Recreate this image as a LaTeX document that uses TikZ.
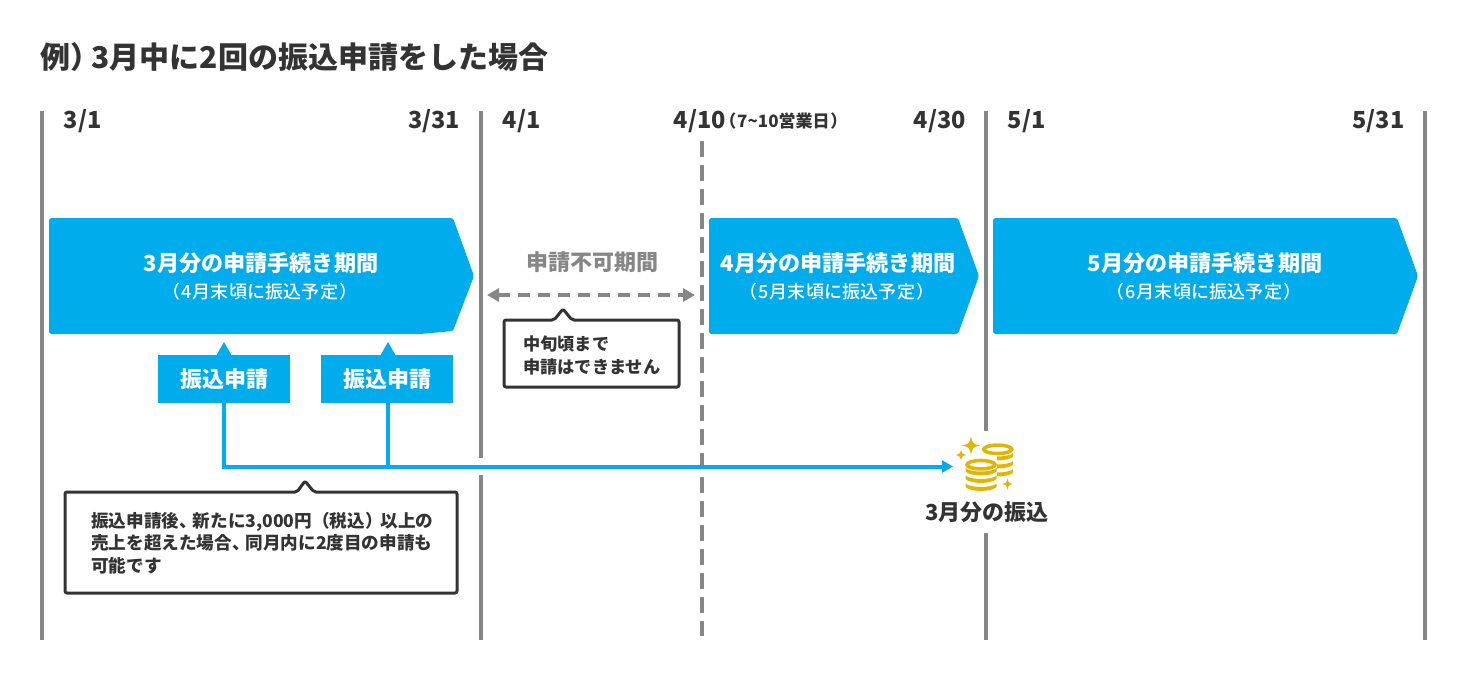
\documentclass[tikz,border=0pt]{standalone}
\usepackage{fontspec}
\setmainfont{Noto Sans CJK JP}
\newfontfamily\paltf{Noto Sans CJK JP}[RawFeature=+palt]
\newfontfamily\medf{Noto Sans CJK JP Medium}[RawFeature=+palt]
\usetikzlibrary{arrows.meta}
\definecolor{skyb}{HTML}{00ACEC}
\definecolor{ink}{HTML}{333333}
\definecolor{rule}{HTML}{868686}
\definecolor{coin}{HTML}{E2B600}
\newcommand{\fs}[2]{\fontsize{#1}{#2}\selectfont\bfseries}
\newcommand{\subtxt}[1]{（\kern1.5pt #1月末頃に振込予定\kern1.5pt）}
\tikzset{
  dateL/.style={anchor=west,inner sep=0pt,text=ink,font=\fs{23.5}{24}},
  dateR/.style={anchor=east,inner sep=0pt,text=ink,font=\fs{23.5}{24}},
  vline/.style={draw=rule,line width=4pt},
  vdash/.style={draw=rule,line width=4pt,dash pattern=on 16pt off 8pt},
  penta/.style={fill=skyb,rounded corners=2.5pt},
  ptitle/.style={inner sep=0pt,text=white,font=\fs{22.1}{26}},
  psub/.style={inner sep=0pt,text=white,font=\medf\fontsize{18}{20}\selectfont\addfontfeature{LetterSpace=2}},
  applybox/.style={fill=skyb,text=white,inner sep=0pt,minimum width=132pt,minimum height=48pt,font=\fs{22}{24}},
  bluewire/.style={draw=skyb,line width=4pt},
  callout/.style={draw=ink,fill=white,line width=3pt,rounded corners=2pt,line join=round},
  calltext/.style={anchor=north west,inner sep=0pt,text=ink,align=left},
  coinring/.style={draw=coin,line width=3.6pt},
  sparkle/.style={fill=coin},
}
\newcommand{\spark}[3]{\fill[sparkle] (#1-#3,#2) .. controls (#1-0.2*#3,#2-0.2*#3) .. (#1,#2-#3) .. controls (#1+0.2*#3,#2-0.2*#3) .. (#1+#3,#2) .. controls (#1+0.2*#3,#2+0.2*#3) .. (#1,#2+#3) .. controls (#1-0.2*#3,#2+0.2*#3) .. cycle;}
\newcommand{\banddd}[2]{\fill[coin] (#1-15.5,#2-7) .. controls (#1-11,#2-2.4) and (#1+11,#2-2.4) .. (#1+15.5,#2-7) -- (#1+15.5,#2-3.5) .. controls (#1+11,#2+1.7) and (#1-11,#2+1.7) .. (#1-15.5,#2-3.5) -- cycle;}
\begin{document}
\begin{tikzpicture}[x=1pt,y=-1pt]
\useasboundingbox (0,0) rectangle (1466,680);
\fill[white] (0,0) rectangle (1466,680);
\node[anchor=west,inner sep=0pt,text=ink,font=\fs{30}{32}] (title) at (40,57) {例）\kern-8.5pt 3月中に2回の振込申請をした場合};
% vertical rules
\coordinate (a1) at (42,111); \coordinate (a2) at (42,640);
\coordinate (b1) at (481,111); \coordinate (b2) at (481,458);
\coordinate (b3) at (481,475); \coordinate (b4) at (481,640);
\coordinate (c1) at (702,141); \coordinate (c2) at (702,636);
\coordinate (d1) at (986,111); \coordinate (d2) at (986,431);
\coordinate (d3) at (986,533); \coordinate (d4) at (986,640);
\coordinate (e1) at (1425,111); \coordinate (e2) at (1425,640);
\draw[vline] (a1)--(a2);
\draw[vline] (b1)--(b2);
\draw[vline] (b3)--(b4);
\draw[vdash] (c1)--(c2);
\draw[vline] (d1)--(d2);
\draw[vline] (d3)--(d4);
\draw[vline] (e1)--(e2);
% dates
\node[dateL] (d31) at (63.5,121) {3/1};
\node[dateR] (d331) at (460.5,121) {3/31};
\node[dateL] (d41) at (502.5,121) {4/1};
\node[dateL] (d410) at (673.5,121) {4/10};
\node[anchor=west,inner sep=0pt,text=ink,font=\fs{17}{20}] (dnote) at (727,121) {{\paltf （}\kern1.5pt 7\textasciitilde 10営業日\kern1.5pt{\paltf ）}};
\node[dateR] (d430) at (966,121) {4/30};
\node[dateL] (d51) at (1007.5,121) {5/1};
\node[dateR] (d531) at (1404.5,121) {5/31};
% pentagons
\path[penta] (49,218) -- (453,218) -- (474,276) -- (453,331) -- (420,334) -- (49,334) -- cycle;
\path[penta] (709,218) -- (958,218) -- (979,276) -- (958,334) -- (709,334) -- cycle;
\path[penta] (993,218) -- (1397,218) -- (1418,276) -- (1397,334) -- (993,334) -- cycle;
\node[ptitle] (p1t) at (261,263) {3月分の申請手続き期間};
\node[psub] (p1s) at (260,291.5) {\subtxt{4}};
\node[ptitle] (p2t) at (838,263) {4月分の申請手続き期間};
\node[psub] (p2s) at (837,291.5) {\subtxt{5}};
\node[ptitle] (p3t) at (1205,263) {5月分の申請手続き期間};
\node[psub] (p3s) at (1204,291.5) {\subtxt{6}};
% blocked period
\node[inner sep=0pt,text=rule,font=\fs{22}{24}] (ng) at (592,262) {申請不可期間};
\coordinate (ngL) at (487,295); \coordinate (ngR) at (695,295);
\draw[draw=rule,line width=3.5pt,dash pattern=on 12pt off 8pt,{Triangle[length=12pt,width=13pt]}-{Triangle[length=12pt,width=13pt]}] (ngL)--(ngR);
\draw[callout] (504,320) -- (554,320) -- (563,309) -- (572,320) -- (679,320) -- (679,387) -- (504,387) -- cycle;
\node[calltext,font=\fs{17.2}{23}] (ngtext) at (523,335.5) {中旬頃まで\\申請はできません};
% apply boxes
\fill[skyb] (216,356) -- (224,342) -- (232,356) -- cycle;
\fill[skyb] (380,356) -- (388,342) -- (396,356) -- cycle;
\node[applybox] (ap1) at (224,379) {\raisebox{-2.5pt}{振込申請}};
\node[applybox] (ap2) at (387,379) {\raisebox{-2.5pt}{振込申請}};
% wires
\coordinate (wireEnd) at (953,466.5);
\coordinate (j1) at (224,466.5); \coordinate (j2) at (388,466.5);
\draw[bluewire] (ap2.south -| j2) -- (j2);
\draw[bluewire,-{Triangle[length=11pt,width=12pt]}] (ap1.south) -- (j1) -- (wireEnd);
% note
\draw[callout] (65,492) -- (297,492) -- (305,481) -- (314,492) -- (457,492) -- (457,593) -- (65,593) -- cycle;
\node[calltext,font=\fs{17.6}{22.5}] (notetext) at (91,512) {振込申請後、\kern-4pt 新たに3,000円（税込）\kern-2pt 以上の\\売上を超えた場合、\kern-4pt 同月内に2度目の申請も\\可能です};
% coins
\begin{scope}
\clip (997,440) rectangle (1020,480);
\banddd{997.7}{460}
\banddd{997.7}{468}
\banddd{997.7}{476}
\end{scope}
\draw[coinring] (997.7,449.3) ellipse[x radius=14,y radius=4.2];
\draw[coinring] (981,464.7) ellipse[x radius=14,y radius=4.2];
\banddd{981}{475}
\banddd{981}{482.5}
\banddd{981}{490.5}
\spark{971}{445.5}{9}
\spark{961}{455}{5.5}
\spark{1007.5}{484}{5.5}
\node[inner sep=0pt,text=ink,font=\fs{22}{24}] (payout) at (987,512.5) {3月分の振込};
\end{tikzpicture}
\end{document}
